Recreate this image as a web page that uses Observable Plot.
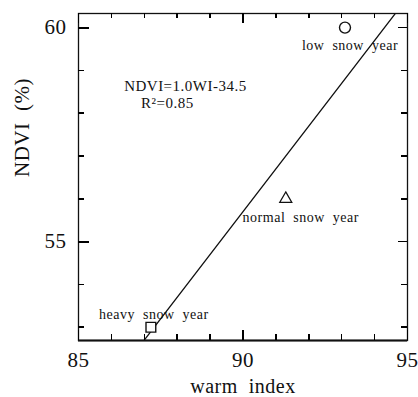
<!DOCTYPE html>
<html>
<head>
<meta charset="utf-8">
<script src="https://cdn.jsdelivr.net/npm/d3@7"></script>
<script src="https://cdn.jsdelivr.net/npm/@observablehq/plot@0.6"></script>
<style>
  html, body { margin: 0; padding: 0; background: #fff; }
</style>
</head>
<body>
<div id="chart"></div>
<script>
// Observations
const years = ["heavy  snow  year", "normal  snow  year", "low  snow  year"];
const warmIndex = [87.2, 91.3, 93.1];
const ndvi = [53.0, 56.0, 60.0];
const symbols = ["square", "triangle", "circle"];

// Regression line (NDVI = 1.0 WI - 34.5), endpoints
const fitWI = [86.9, 94.7];
const fitNDVI = [52.6, 60.4];

// Annotation text
const equationLines = ["NDVI=1.0WI-34.5", "R²=0.85"];

// Ticks
const xMajorTicks = [85, 90, 95];
const xMinorTicks = [86, 87, 88, 89, 91, 92, 93, 94];
const yMajorTicks = [55, 60];
const yMinorTicks = [53, 54, 56, 57, 58, 59];

const points = years.map((y, i) => ({year: y, wi: warmIndex[i], ndvi: ndvi[i], symbol: symbols[i]}));
const fit = fitWI.map((x, i) => ({wi: x, ndvi: fitNDVI[i]}));
const font = "'Liberation Serif', 'Times New Roman', serif";

const W = 418, H = 397, ML = 78, MR = 11, MT = 13, MB = 57;
const FW = W - ML - MR, FH = H - MT - MB;
const xDom = [85, 95], yDom = [52.69, 60.33];
// pixel tick length -> data units
const pxX = (px) => px * (xDom[1] - xDom[0]) / FW;
const pxY = (px) => px * (yDom[1] - yDom[0]) / FH;

const tickStyle = (sw) => ({stroke: "#000", strokeWidth: sw, shapeRendering: "crispEdges"});
const bottomTicks = (t, len, sw) => Plot.ruleX(t, {x: d => d, y1: yDom[0], y2: yDom[0] + pxY(len), ...tickStyle(sw)});
const topTicks = (t, len, sw) => Plot.ruleX(t, {x: d => d, y1: yDom[1], y2: yDom[1] - pxY(len), ...tickStyle(sw)});
const leftTicks = (t, len, sw) => Plot.ruleY(t, {y: d => d, x1: xDom[0], x2: xDom[0] + pxX(len), ...tickStyle(sw)});
const rightTicks = (t, len, sw) => Plot.ruleY(t, {y: d => d, x1: xDom[1], x2: xDom[1] - pxX(len), ...tickStyle(sw)});

const labelMark = (i, ddx, ddy) => Plot.text([points[i]], {
  x: "wi", y: "ndvi", text: "year", dx: ddx, dy: ddy, fontSize: 14, fontFamily: font, fill: "#111"
});

const plot = Plot.plot({
  width: W,
  height: H,
  marginLeft: ML,
  marginRight: MR,
  marginTop: MT,
  marginBottom: MB,
  style: {fontFamily: font, color: "#111", background: "#fff", letterSpacing: "0.5px"},
  x: {domain: xDom, axis: null},
  y: {domain: yDom, axis: null},
  marks: [
    // frame (thicker bottom axis line)
    Plot.frame({stroke: "#111", strokeWidth: 1.3, fill: "none"}),
    Plot.ruleY([yDom[0]], {stroke: "#111", strokeWidth: 2}),
    // tick labels
    Plot.axisX(xMajorTicks, {anchor: "bottom", tickSize: 0, tickPadding: 12, fontSize: 21, label: null}),
    Plot.axisY(yMajorTicks, {anchor: "left", tickSize: 0, tickPadding: 12, fontSize: 21, label: null}),
    // axis titles
    Plot.text(["warm  index"], {frameAnchor: "bottom", dy: 52, fontSize: 20, fontFamily: font}),
    Plot.text(["NDVI  (%)"], {frameAnchor: "left", dx: -56, rotate: -90, fontSize: 21, fontFamily: font}),
    // regression line
    Plot.line(fit, {x: "wi", y: "ndvi", stroke: "#111", strokeWidth: 1.3, clip: true}),
    // points
    Plot.dot(points.filter(d => d.symbol !== "triangle"), {x: "wi", y: "ndvi", symbol: "symbol", r: 5.5, fill: "#fff", stroke: "#111", strokeWidth: 1.4}),
    Plot.dot(points.filter(d => d.symbol === "triangle"), {x: "wi", y: "ndvi", symbol: "symbol", r: 4.5, fill: "#fff", stroke: "#111", strokeWidth: 1.2}),
    // point labels
    labelMark(0, 3, -13),
    labelMark(1, 15, 19),
    labelMark(2, 5, 18),
    // equation
    Plot.text([equationLines[0]], {x: 88.25, y: 58.64, fontSize: 15, fontFamily: font}),
    Plot.text([equationLines[1]], {x: 87.7, y: 58.24, fontSize: 15, fontFamily: font}),
    // inward ticks on all four sides, drawn last so nothing covers them
    bottomTicks(xMinorTicks, 6, 1.5),
    bottomTicks(xMajorTicks, 10, 1.5),
    topTicks(xMinorTicks, 5, 1.5),
    topTicks(xMajorTicks, 10, 1.5),
    leftTicks(yMinorTicks, 6, 1.5),
    leftTicks(yMajorTicks, 11, 2),
    rightTicks(yMinorTicks, 6, 1.5),
    rightTicks(yMajorTicks, 9, 1.5)
  ]
});

document.getElementById("chart").appendChild(plot);
</script>
</body>
</html>
